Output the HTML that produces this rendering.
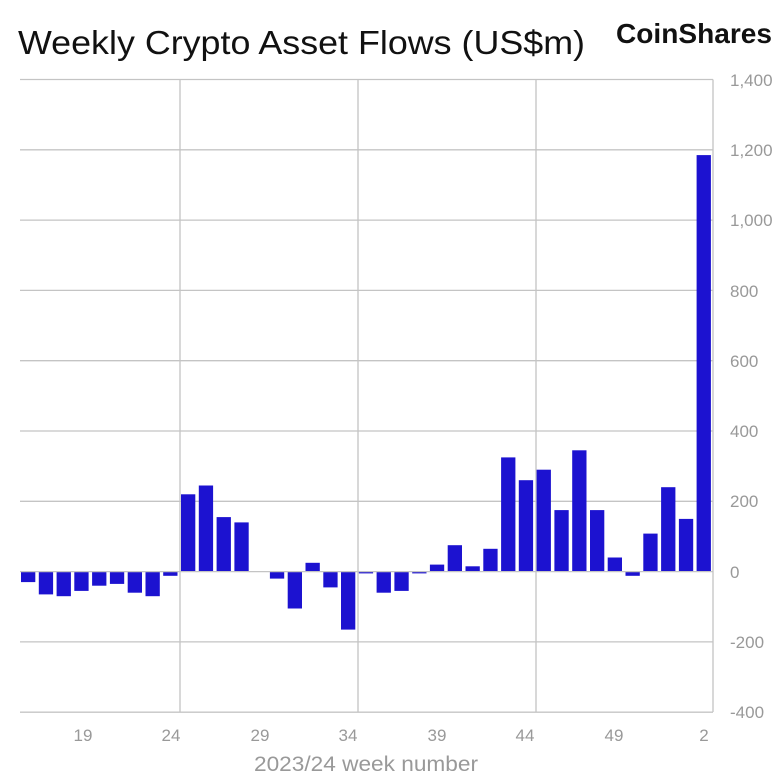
<!DOCTYPE html>
<html><head><meta charset="utf-8"><style>
body{margin:0;background:#fff;}
svg{display:block;font-family:"Liberation Sans",sans-serif;}
</style></head><body>
<svg width="780" height="777" viewBox="0 0 780 777">
<text x="18" y="54" font-size="33" fill="#111" textLength="567" lengthAdjust="spacingAndGlyphs">Weekly Crypto Asset Flows (US$m)</text>
<text x="616" y="43" font-size="28" font-weight="bold" fill="#111" textLength="156" lengthAdjust="spacingAndGlyphs">CoinShares</text>
<g stroke="#c4c4c4" stroke-width="1.3" fill="none">
<line x1="20" y1="79.5" x2="713" y2="79.5"/>
<line x1="20" y1="149.8" x2="713" y2="149.8"/>
<line x1="20" y1="220.1" x2="713" y2="220.1"/>
<line x1="20" y1="290.4" x2="713" y2="290.4"/>
<line x1="20" y1="360.7" x2="713" y2="360.7"/>
<line x1="20" y1="431" x2="713" y2="431"/>
<line x1="20" y1="501.3" x2="713" y2="501.3"/>
<line x1="20" y1="641.9" x2="713" y2="641.9"/>
<line x1="20" y1="712.2" x2="713" y2="712.2"/>
<line x1="180" y1="79.5" x2="180" y2="712"/>
<line x1="358" y1="79.5" x2="358" y2="712"/>
<line x1="536" y1="79.5" x2="536" y2="712"/>
<line x1="713" y1="79.5" x2="713" y2="712"/>
</g>
<g fill="#1c12d0">
<rect x="21.0" y="571.6" width="14.3" height="10.5"/>
<rect x="38.8" y="571.6" width="14.3" height="22.8"/>
<rect x="56.6" y="571.6" width="14.3" height="24.6"/>
<rect x="74.3" y="571.6" width="14.3" height="19.3"/>
<rect x="92.1" y="571.6" width="14.3" height="14.1"/>
<rect x="109.9" y="571.6" width="14.3" height="12.3"/>
<rect x="127.7" y="571.6" width="14.3" height="21.1"/>
<rect x="145.5" y="571.6" width="14.3" height="24.6"/>
<rect x="163.2" y="571.6" width="14.3" height="4.2"/>
<rect x="181.0" y="494.3" width="14.3" height="77.3"/>
<rect x="198.8" y="485.5" width="14.3" height="86.1"/>
<rect x="216.6" y="517.1" width="14.3" height="54.5"/>
<rect x="234.4" y="522.4" width="14.3" height="49.2"/>
<rect x="269.9" y="571.6" width="14.3" height="7.0"/>
<rect x="287.7" y="571.6" width="14.3" height="36.9"/>
<rect x="305.5" y="562.8" width="14.3" height="8.8"/>
<rect x="323.3" y="571.6" width="14.3" height="15.8"/>
<rect x="341.0" y="571.6" width="14.3" height="58.0"/>
<rect x="358.8" y="571.6" width="14.3" height="1.8"/>
<rect x="376.6" y="571.6" width="14.3" height="21.1"/>
<rect x="394.4" y="571.6" width="14.3" height="19.3"/>
<rect x="412.2" y="571.6" width="14.3" height="1.8"/>
<rect x="429.9" y="564.6" width="14.3" height="7.0"/>
<rect x="447.7" y="545.2" width="14.3" height="26.4"/>
<rect x="465.5" y="566.3" width="14.3" height="5.3"/>
<rect x="483.3" y="548.8" width="14.3" height="22.8"/>
<rect x="501.1" y="457.4" width="14.3" height="114.2"/>
<rect x="518.8" y="480.2" width="14.3" height="91.4"/>
<rect x="536.6" y="469.7" width="14.3" height="101.9"/>
<rect x="554.4" y="510.1" width="14.3" height="61.5"/>
<rect x="572.2" y="450.3" width="14.3" height="121.3"/>
<rect x="590.0" y="510.1" width="14.3" height="61.5"/>
<rect x="607.7" y="557.5" width="14.3" height="14.1"/>
<rect x="625.5" y="571.6" width="14.3" height="4.2"/>
<rect x="643.3" y="533.6" width="14.3" height="38.0"/>
<rect x="661.1" y="487.2" width="14.3" height="84.4"/>
<rect x="678.9" y="518.9" width="14.3" height="52.7"/>
<rect x="696.6" y="155.1" width="14.3" height="416.5"/>
</g>
<line x1="20" y1="571.6" x2="713" y2="571.6" stroke="#c4c4c4" stroke-width="1.3"/>
<g font-size="17" fill="#999" text-anchor="start">
<text x="730" y="86">1,400</text>
<text x="730" y="156">1,200</text>
<text x="730" y="226">1,000</text>
<text x="730" y="297">800</text>
<text x="730" y="367">600</text>
<text x="730" y="437">400</text>
<text x="730" y="507">200</text>
<text x="730" y="578">0</text>
<text x="730" y="648">-200</text>
<text x="730" y="718">-400</text>
</g>
<g font-size="17" fill="#999" text-anchor="middle">
<text x="83" y="741">19</text>
<text x="171" y="741">24</text>
<text x="260" y="741">29</text>
<text x="348" y="741">34</text>
<text x="437" y="741">39</text>
<text x="525" y="741">44</text>
<text x="614" y="741">49</text>
<text x="704" y="741">2</text>
</g>
<text x="254" y="771" font-size="21" fill="#999" textLength="224" lengthAdjust="spacingAndGlyphs">2023/24 week number</text>
</svg>
</body></html>
